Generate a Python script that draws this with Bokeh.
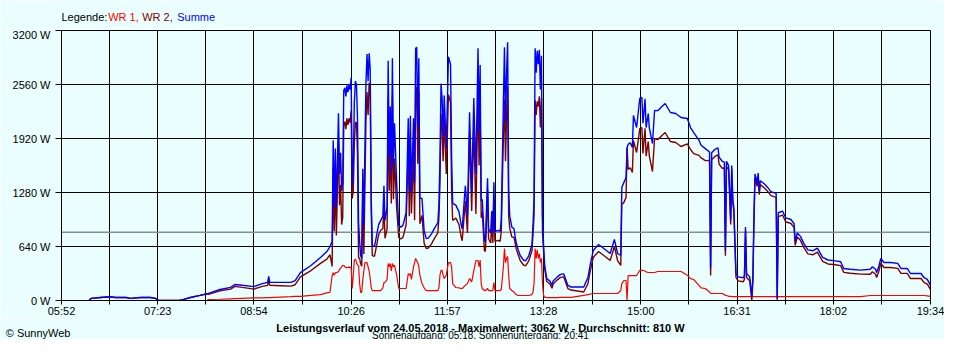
from bokeh.plotting import figure
from bokeh.models import Range1d, FixedTicker, Label, Span
from bokeh.layouts import column
from bokeh.embed import file_html
from bokeh.resources import INLINE

# ---------------- data ----------------
x_tick_labels = ["05:52", "07:23", "08:54", "10:26", "11:57", "13:28",
                 "15:00", "16:31", "18:02", "19:34"]
y_tick_values = [0, 640, 1280, 1920, 2560, 3200]
average_w = 810
max_w = 3062
date_text = "24.05.2018"
sunrise = "05:18"
sunset = "20:41"

# time of day in minutes after midnight
T = [378, 380, 389, 398, 403, 413, 417, 427, 436, 441,
     444, 463, 467, 474, 483, 490, 491, 502, 512, 516,
     523, 534, 542, 547, 548, 549, 559, 569, 573, 578,
     588, 597, 603, 606, 608, 609, 610, 611, 612, 614,
     615, 616, 617, 618, 619, 620, 621, 622, 623, 624,
     625, 626, 627, 628, 629, 630, 631, 632, 633, 634,
     635, 636, 637, 638, 639, 640, 641, 642, 643, 644,
     645, 646, 648, 649, 652, 654, 656, 657, 658, 660,
     661, 662, 663, 664, 665, 666, 667, 669, 671, 673,
     675, 678, 680, 681, 682, 683, 685, 686, 687, 688,
     689, 690, 691, 693, 695, 697, 699, 702, 705, 708,
     709, 710, 711, 712, 713, 714, 716, 718, 720, 721,
     722, 725, 728, 730, 731, 734, 736, 738, 740, 742,
     744, 746, 747, 748, 749, 750, 752, 753, 755, 756,
     758, 759, 760, 761, 762, 765, 767, 768, 770, 771,
     772, 773, 774, 775, 776, 778, 780, 782, 784, 786,
     789, 791, 794, 797, 798, 799, 800, 801, 802, 803,
     804, 805, 806, 807, 808, 809, 811, 814, 816, 817,
     821, 824, 827, 831, 834, 846, 850, 852, 855, 860,
     865, 871, 875, 878, 881, 882, 884, 886, 887, 888,
     890, 892, 893, 896, 899, 901, 902, 904, 905, 907,
     908, 911, 913, 916, 919, 923, 928, 933, 938, 944,
     947, 950, 955, 957, 961, 965, 966, 967, 970, 973,
     974, 977, 979, 980, 981, 983, 984, 985, 986, 987,
     988, 990, 992, 997, 998, 999, 1000, 1003, 1005, 1006,
     1007, 1008, 1010, 1011, 1012, 1013, 1017, 1020, 1023, 1028,
     1029, 1030, 1034, 1037, 1042, 1045, 1046, 1048, 1051, 1054,
     1058, 1063, 1067, 1072, 1077, 1084, 1089, 1092, 1098, 1108,
     1117, 1119, 1122, 1123, 1125, 1127, 1130, 1136, 1143, 1146,
     1152, 1155, 1165, 1168, 1171, 1174]

# Summe (W)
summe = [0, 25, 35, 45, 35, 35, 25, 35, 35, 25,
         0, 0, 10, 35, 60, 80, 85, 130, 155, 190,
         180, 165, 200, 215, 285, 215, 215, 215, 235, 330,
         415, 510, 580, 640, 700, 1900, 1120, 1800, 1100, 2220,
         1500, 1750, 1300, 1400, 2490, 2520, 2420, 2550, 2470, 2560,
         2500, 2640, 1350, 1600, 2350, 2600, 2560, 2150, 920, 700,
         530, 500, 1560, 900, 1800, 2580, 2920, 2600, 2930, 2750,
         1200, 650, 640, 700, 900, 950, 1000, 1360, 950, 1100,
         2840, 1700, 2300, 1500, 2870, 1600, 2100, 1400, 890, 870,
         890, 1040, 2160, 1300, 2190, 1280, 2160, 1400, 2990, 3000,
         2070, 2870, 1210, 1210, 830, 735, 740, 790, 860, 920,
         1130, 1680, 2570, 2400, 1950, 2430, 1800, 2890, 2800, 1700,
         1150, 1130, 1050, 900, 850, 1360, 1000, 2230, 1280, 2400,
         1500, 2990, 2000, 2790, 1180, 1200, 710, 700, 1450, 850,
         800, 1060, 800, 1400, 820, 830, 820, 960, 2350, 3000,
         2100, 2700, 3060, 1300, 1000, 870, 850, 690, 600, 530,
         480, 470, 530, 660, 890, 1200, 2990, 2700, 2960, 2800,
         2970, 2500, 2900, 1000, 650, 420, 260, 230, 180, 230,
         280, 310, 316, 178, 160, 160, 272, 415, 593, 664,
         616, 557, 723, 557, 533, 1339, 1400, 1458, 1813, 1850,
         1870, 1813, 2192, 2050, 2394, 2406, 2100, 2390, 2050, 2216,
         2050, 1860, 2252, 2250, 2287, 2335, 2228, 2216, 2169, 2157,
         2050, 1990, 1900, 1840, 1800, 1760, 380, 1750, 1790, 1810,
         1700, 1650, 1640, 590, 1650, 1600, 1300, 950, 1600, 1200,
         1100, 320, 280, 270, 300, 870, 320, 280, 47, 280,
         990, 1500, 1400, 1510, 1300, 1420, 1380, 1340, 1290, 1270,
         30, 1040, 1060, 980, 960, 910, 700, 800, 760, 680,
         600, 590, 620, 510, 480, 470, 460, 380, 370, 360,
         370, 400, 370, 330, 400, 500, 450, 450, 440, 380,
         380, 320, 320, 270, 250, 180]

# WR 1 (W)
wr1 = [0, 0, 0, 0, 0, 0, 0, 0, 0, 0,
       0, 0, 0, 0, 0, 0, 12, 15, 20, 22,
       25, 30, 32, 35, 35, 35, 40, 45, 48, 50,
       60, 70, 90, 98, 296, 330, 300, 330, 330, 340,
       370, 380, 400, 415, 415, 400, 390, 390, 390, 400,
       390, 390, 142, 300, 480, 490, 450, 420, 415, 200,
       95, 95, 250, 350, 450, 450, 450, 400, 350, 261,
       150, 118, 118, 118, 118, 118, 150, 213, 213, 250,
       438, 400, 438, 350, 438, 400, 420, 300, 142, 142,
       142, 142, 320, 300, 320, 250, 400, 450, 498, 470,
       450, 400, 300, 201, 150, 118, 118, 118, 118, 118,
       150, 300, 356, 356, 300, 261, 300, 450, 450, 400,
       200, 154, 150, 142, 142, 180, 200, 261, 220, 350,
       474, 474, 400, 480, 200, 142, 118, 118, 142, 118,
       118, 118, 118, 213, 118, 118, 118, 130, 400, 616,
       450, 500, 520, 300, 142, 118, 100, 70, 59, 59,
       59, 59, 59, 70, 100, 200, 616, 500, 600, 500,
       550, 450, 500, 200, 60, 40, 35, 35, 35, 35,
       35, 36, 36, 36, 36, 60, 70, 75, 83, 83,
       83, 83, 83, 83, 118, 200, 237, 237, 0, 296,
       296, 296, 296, 296, 356, 356, 356, 350, 340, 332,
       332, 332, 332, 344, 344, 344, 344, 344, 344, 300,
       260, 249, 180, 150, 142, 100, 83, 83, 83, 83,
       83, 83, 70, 60, 60, 50, 50, 50, 47, 47,
       47, 47, 47, 47, 47, 47, 47, 47, 47, 47,
       47, 47, 47, 47, 47, 47, 47, 47, 47, 47,
       30, 47, 47, 47, 47, 47, 47, 47, 47, 47,
       47, 47, 47, 47, 47, 47, 47, 47, 47, 47,
       59, 59, 59, 59, 59, 59, 59, 59, 59, 59,
       59, 59, 59, 59, 55, 50]

# WR 2 (W)
wr2 = [0, 25, 35, 45, 35, 35, 25, 35, 35, 25,
       0, 0, 10, 35, 60, 80, 73, 115, 135, 168,
       155, 135, 168, 180, 250, 180, 175, 170, 187, 280,
       355, 440, 490, 542, 404, 1570, 820, 1470, 770, 1880,
       1130, 1370, 900, 985, 2075, 2120, 2030, 2160, 2080, 2160,
       2110, 2250, 1208, 1300, 1870, 2110, 2110, 1730, 505, 500,
       435, 405, 1310, 550, 1350, 2130, 2470, 2200, 2580, 2489,
       1050, 532, 522, 582, 782, 832, 850, 1147, 737, 850,
       2402, 1300, 1862, 1150, 2432, 1200, 1680, 1100, 748, 728,
       748, 898, 1840, 1000, 1870, 1030, 1760, 950, 2492, 2530,
       1620, 2470, 910, 1009, 680, 617, 622, 672, 742, 802,
       980, 1380, 2214, 2044, 1650, 2169, 1500, 2440, 2350, 1300,
       950, 976, 900, 758, 708, 1180, 800, 1969, 1060, 2050,
       1026, 2516, 1600, 2310, 980, 1058, 592, 582, 1308, 732,
       682, 942, 682, 1187, 702, 712, 702, 830, 1950, 2384,
       1650, 2200, 2540, 1000, 858, 752, 750, 620, 541, 471,
       421, 411, 471, 590, 790, 1000, 2374, 2200, 2360, 2300,
       2420, 2050, 2400, 800, 590, 380, 225, 195, 145, 195,
       245, 274, 280, 142, 124, 100, 202, 340, 510, 581,
       533, 474, 640, 474, 415, 1139, 1163, 1221, 1813, 1554,
       1574, 1517, 1896, 1754, 2038, 2050, 1744, 2040, 1710, 1884,
       1718, 1528, 1920, 1906, 1943, 1991, 1884, 1872, 1825, 1857,
       1790, 1741, 1720, 1690, 1658, 1660, 297, 1667, 1707, 1727,
       1617, 1567, 1570, 530, 1590, 1550, 1250, 900, 1553, 1153,
       1053, 273, 233, 223, 253, 823, 273, 233, 0, 233,
       943, 1453, 1353, 1463, 1253, 1373, 1333, 1293, 1243, 1223,
       0, 993, 1013, 933, 913, 863, 653, 753, 713, 633,
       553, 543, 573, 463, 433, 423, 413, 333, 323, 313,
       311, 341, 311, 271, 341, 441, 391, 391, 381, 321,
       321, 261, 261, 211, 195, 130]


def to_min(s):
    h, m = s.split(":")
    return int(h) * 60 + int(m)


major = [to_min(s) for s in x_tick_labels]
minor = [(a + b) / 2 for a, b in zip(major[:-1], major[1:])]

BG = "#eafefe"
FONT = "Liberation Sans"
W = 944
FRAME_L, FRAME_R = 61, 930      # frame edges (all figures share them)
TOP_H = 28
BOT_H = 20


def text_strip(height):
    f = figure(width=W, height=height, output_backend="svg",
               toolbar_location=None, x_axis_type=None, y_axis_type=None,
               x_range=Range1d(FRAME_L, FRAME_R), y_range=Range1d(0, height),
               min_border_left=FRAME_L, min_border_right=W - FRAME_R,
               min_border_top=0, min_border_bottom=0,
               background_fill_color=BG, border_fill_color=BG)
    f.outline_line_color = None
    f.grid.visible = False
    return f


# ---- top strip: coloured legend text ----
top = text_strip(TOP_H)
legend_parts = [("Legende: ", "black", 61), ("WR 1,", "#ff0000", 107.7),
                ("WR 2,", "#800000", 141.7), ("Summe", "#0000ff", 176.7)]
for txt, col, xs in legend_parts:
    top.add_layout(Label(x=xs, y=TOP_H - 16.5, text=txt, text_color=col,
                         text_font=FONT, text_font_size="11px",
                         text_align="left", text_baseline="middle"))

# ---- main chart ----
p = figure(width=W, height=290, frame_width=FRAME_R - FRAME_L, frame_height=270,
           output_backend="svg", toolbar_location=None,
           x_range=Range1d(major[0], major[-1]), y_range=Range1d(0, 3200),
           min_border_left=FRAME_L, min_border_right=W - FRAME_R,
           min_border_top=2, min_border_bottom=18,
           background_fill_color=BG, border_fill_color=BG)
p.outline_line_color = "black"

p.xaxis.ticker = FixedTicker(ticks=major, minor_ticks=minor)
p.xaxis.major_label_overrides = {m: s for m, s in zip(major, x_tick_labels)}
p.yaxis.ticker = FixedTicker(ticks=y_tick_values)
p.yaxis.major_label_overrides = {v: f"{v} W" for v in y_tick_values}
for ax in (p.xaxis, p.yaxis):
    ax.axis_line_color = "black"
    ax.major_tick_line_color = "black"
    ax.major_tick_in = 0
    ax.major_label_text_font = FONT
    ax.major_label_text_font_size = "11px"
    ax.major_label_text_color = "black"
p.xaxis.major_tick_out = 4
p.xaxis.minor_tick_out = 4
p.xaxis.minor_tick_in = 0
p.xaxis.minor_tick_line_color = "black"
p.xaxis.major_label_standoff = 0
p.yaxis.major_tick_out = 6
p.yaxis.minor_tick_line_color = None
p.yaxis.major_label_standoff = 5

p.xgrid.ticker = FixedTicker(ticks=major, minor_ticks=minor)
p.xgrid.grid_line_color = "black"
p.xgrid.minor_grid_line_color = "black"
p.ygrid.ticker = FixedTicker(ticks=y_tick_values)
p.ygrid.grid_line_color = "black"

p.add_layout(Span(location=average_w, dimension="width", line_color="#8c8c8c",
                  line_width=1.5, level="underlay"))

p.line(T, wr1, line_color="#ff0000", line_width=1.2)
p.line(T, wr2, line_color="#800000", line_width=1.4)
p.line(T, summe, line_color="#0000ff", line_width=1.4)

# ---- bottom strip: caption lines ----
bot = figure(width=W, height=BOT_H, output_backend="svg",
             toolbar_location=None, x_axis_type=None,
             x_range=Range1d(FRAME_L, FRAME_R), y_range=Range1d(0, BOT_H),
             min_border_left=FRAME_L, min_border_right=W - FRAME_R,
             min_border_top=0, min_border_bottom=0,
             background_fill_color=BG, border_fill_color=BG)
bot.outline_line_color = None
bot.grid.visible = False
# the copyright note sits left of the frame: shown as the lone left-axis label
bot.yaxis.ticker = FixedTicker(ticks=[7])
bot.yaxis.major_label_overrides = {7: "© SunnyWeb"}
bot.yaxis.axis_line_color = None
bot.yaxis.major_tick_line_color = None
bot.yaxis.minor_tick_line_color = None
bot.yaxis.major_tick_out = 0
bot.yaxis.major_tick_in = 0
bot.yaxis.major_label_standoff = -9
bot.yaxis.major_label_text_font = FONT
bot.yaxis.major_label_text_font_size = "11px"
bot.yaxis.major_label_text_color = "black"

title = (f"Leistungsverlauf vom {date_text} - Maximalwert: {max_w} W - "
         f"Durchschnitt: {average_w} W")
bot.add_layout(Label(x=480, y=11.8, text=title, text_font=FONT,
                     text_font_size="11px", text_font_style="bold",
                     text_align="center", text_baseline="alphabetic",
                     text_color="black"))
bot.add_layout(Label(x=480, y=4.2,
                     text=f"Sonnenaufgang: {sunrise}, Sonnenuntergang: {sunset}",
                     text_font=FONT, text_font_size="10px",
                     text_align="center", text_baseline="alphabetic",
                     text_color="black"))

layout = column(top, p, bot, spacing=0)
open("out.html", "w").write(file_html(layout, INLINE))
